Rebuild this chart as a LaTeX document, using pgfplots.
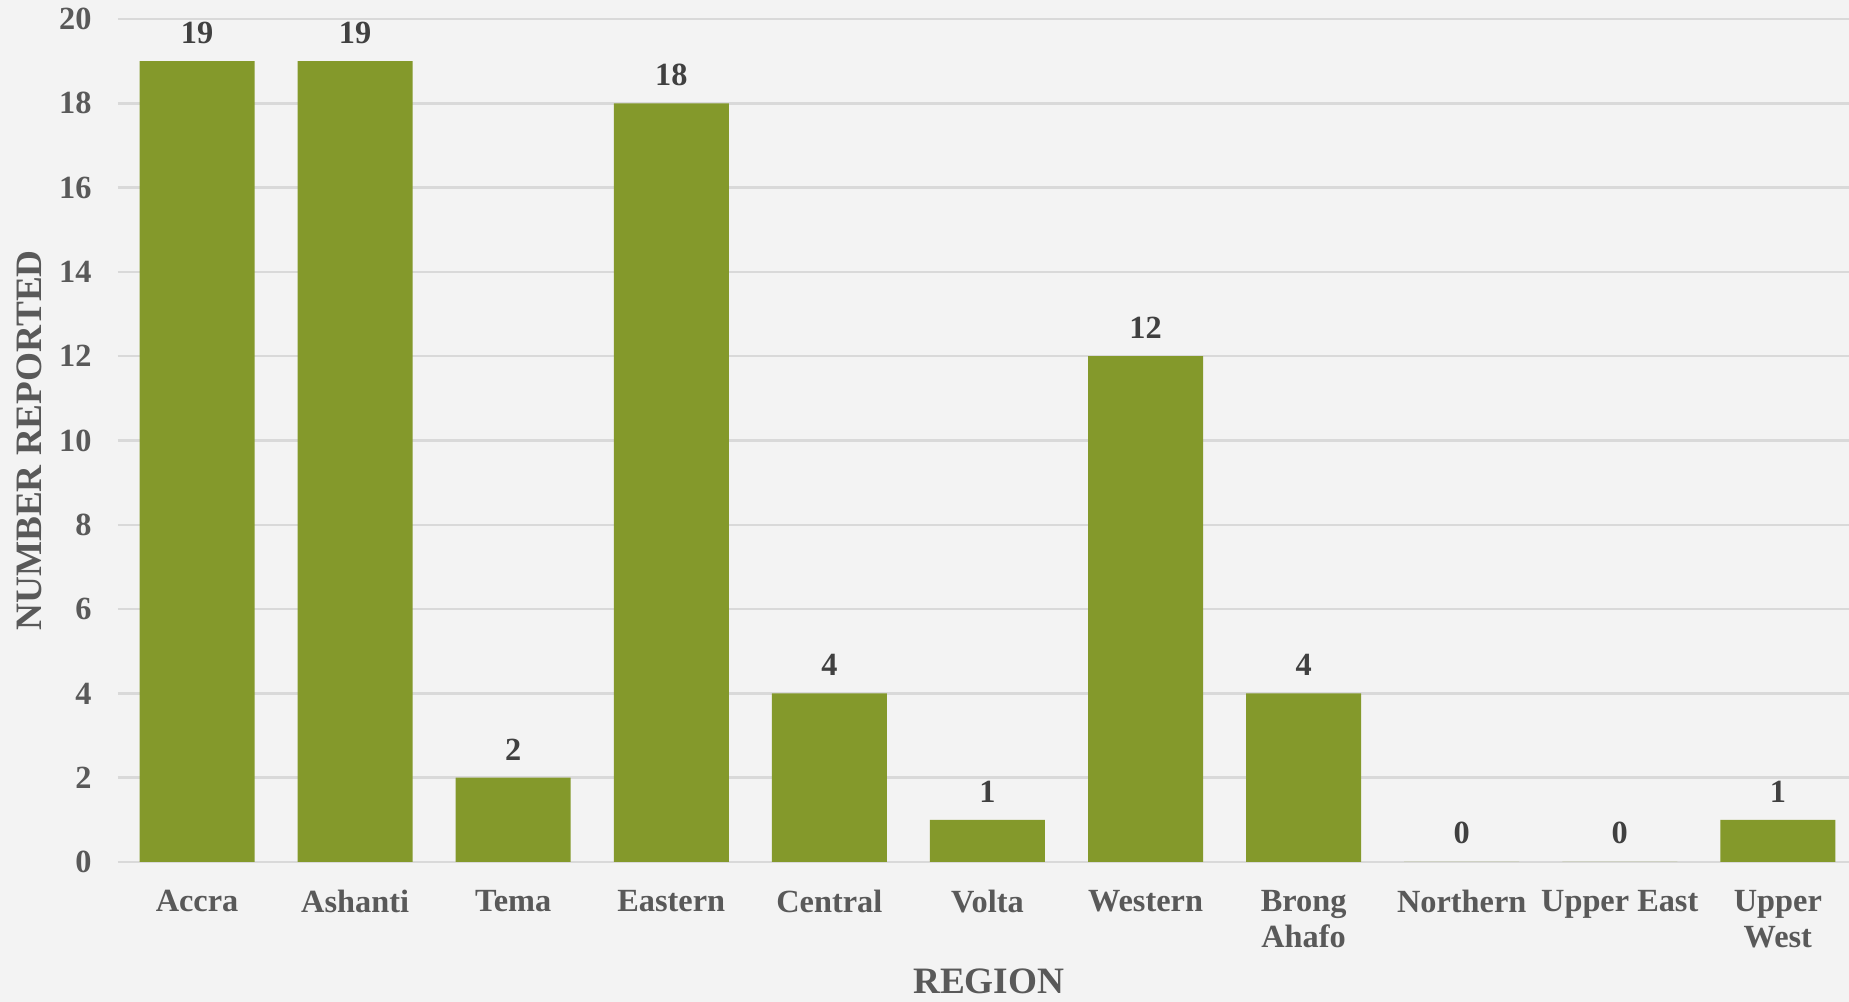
\documentclass[border=0pt]{standalone}
\usepackage{pgfplots}
\pgfplotsset{compat=1.18}
\usepackage{fontspec}
\setmainfont{Liberation Serif}

\definecolor{bargreen}{HTML}{84992B}
\definecolor{bgpaper}{HTML}{F3F3F3}
\definecolor{gridgray}{HTML}{D9D9D9}
\definecolor{labelgray}{HTML}{595959}
\definecolor{valgray}{HTML}{404040}

\begin{document}
\begin{tikzpicture}
% page background, also fixes the picture size
\fill[bgpaper] (-1.18cm,-1.40cm) rectangle (17.31cm,8.62cm);
\path[use as bounding box] (-1.18cm,-1.40cm) rectangle (17.31cm,8.62cm);
\begin{axis}[
    scale only axis,
    width=17.31cm, height=8.43cm,
    ybar, bar width=1.15cm,
    xmin=-0.5, xmax=10.45,
    ymin=0, ymax=20,
    ytick={0,2,...,20},
    xtick=data,
    xticklabels={Accra,Ashanti,Tema,Eastern,Central,Volta,Western,{Brong\\Ahafo},Northern,Upper East,{Upper\\West}},
    major tick length=0pt,
    axis line style={draw=none},
    ymajorgrids,
    major grid style={gridgray, line width=0.7pt},
    tick label style={font=\fontsize{9.2}{10.4}\selectfont\bfseries, text=labelgray},
    /pgf/number format/assume math mode=true,
    xticklabel style={align=center, yshift=-4.5pt},
    yticklabel style={xshift=-4pt},
    xlabel={REGION},
    ylabel={NUMBER REPORTED},
    label style={font=\fontsize{10.6}{12}\selectfont\bfseries, text=labelgray},
    xlabel style={at={(axis description cs:0.503,-0.142)}, anchor=center},
    ylabel style={at={(axis description cs:-0.0514,0.5)}, anchor=center},
    nodes near coords,
    every node near coord/.append style={font=\fontsize{9.2}{10.4}\selectfont\bfseries, text=valgray, yshift=1.5pt},
    point meta=explicit symbolic,
]
\addplot[fill=bargreen, draw=none] coordinates {
    (0,19) [19]
    (1,19) [19]
    (2,2) [2]
    (3,18) [18]
    (4,4) [4]
    (5,1) [1]
    (6,12) [12]
    (7,4) [4]
    (8,0) [0]
    (9,0) [0]
    (10,1) [1]
};
\end{axis}
\end{tikzpicture}
\end{document}
